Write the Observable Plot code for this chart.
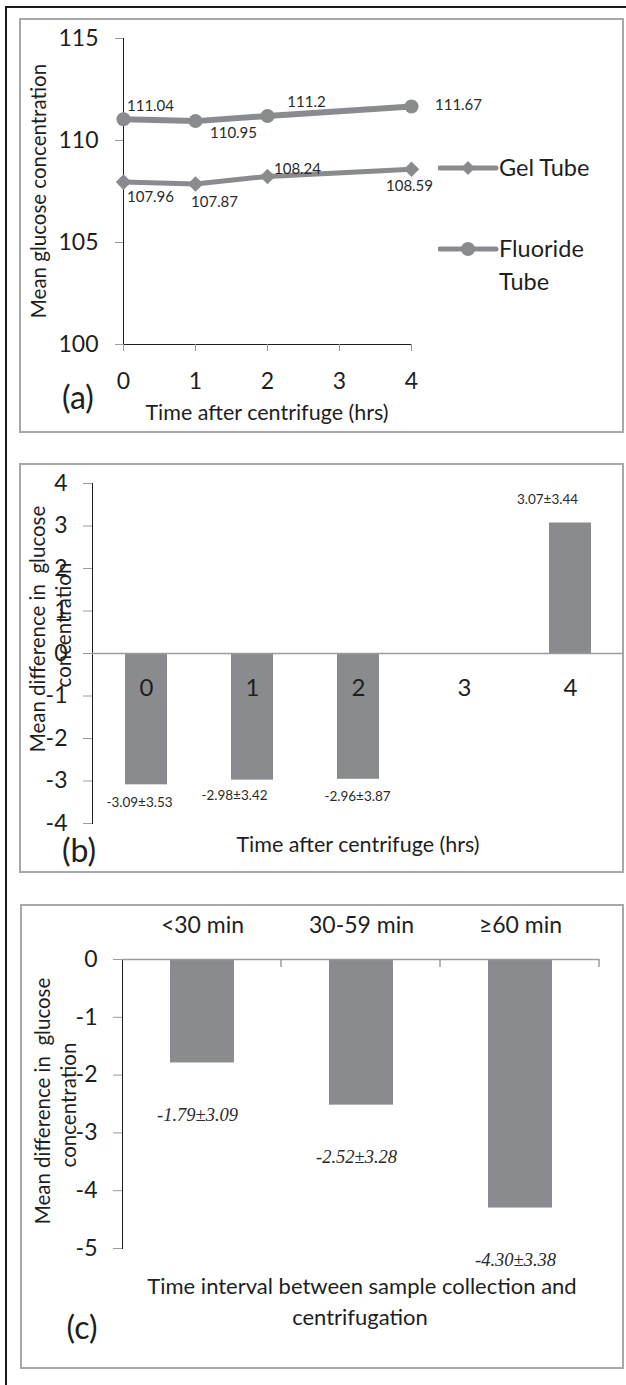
<!DOCTYPE html>
<html><head><meta charset="utf-8">
<script src="https://cdn.jsdelivr.net/npm/d3@7"></script>
<script src="https://cdn.jsdelivr.net/npm/@observablehq/plot@0.6"></script>
<style>
html,body{margin:0;padding:0;background:#fff;}
#page{position:relative;width:626px;height:1385px;overflow:hidden;font-family:Lato,sans-serif;color:#1e1e1e;}
.outer{position:absolute;left:5px;top:6px;width:700px;height:1500px;border-left:2px solid #1a1a1a;border-top:2px solid #1a1a1a;}
.box{position:absolute;border:2px solid #a8a8a8;box-sizing:border-box;}
.plot{position:absolute;}
.t{position:absolute;white-space:nowrap;transform:translate(-50%,-50%);line-height:1;}
.rot{transform:translate(-50%,-50%) rotate(-90deg);}
.l{position:absolute;white-space:nowrap;transform:translate(0,-50%);line-height:1;}
svg g[aria-label*="axis"] line, svg g[aria-label*="axis"] path{stroke:#9c9c9c;}
</style></head>
<body><div id="page"></div>
<script>
// ---------- data ----------
const hours = [0, 1, 2, 4];
const gelTube = [107.96, 107.87, 108.24, 108.59];
const fluorideTube = [111.04, 110.95, 111.2, 111.67];
const xTicksA = [0, 1, 2, 3, 4];
const yTicksA = [100, 105, 110, 115];

const hoursB = ["0", "1", "2", "3", "4"];
const meanDiffB = [-3.09, -2.98, -2.96, null, 3.07];
const sdDiffB = [3.53, 3.42, 3.87, null, 3.44];
const yTicksB = [-4, -3, -2, -1, 0, 1, 2, 3, 4];

const intervalsC = ["<30 min", "30-59 min", "≥60 min"];
const meanDiffC = [-1.79, -2.52, -4.30];
const sdDiffC = [3.09, 3.28, 3.38];
const yTicksC = [-5, -4, -3, -2, -1, 0];

// ---------- helpers ----------
const GRAY = "#8a8b8e";
const page = document.getElementById("page");
function add(html){ page.insertAdjacentHTML("beforeend", html); }
function place(svg, left, top){ svg.classList.add("plot"); svg.style.left = left + "px"; svg.style.top = top + "px"; page.appendChild(svg); }
const baseStyle = {fontFamily:"Lato", fontSize:"23px", color:"#1e1e1e", background:"transparent", overflow:"visible"};

add('<div class="outer"></div>');
add('<div class="box" style="left:19px;top:18px;width:605px;height:415px"></div>');
add('<div class="box" style="left:19px;top:463px;width:605px;height:410px"></div>');
add('<div class="box" style="left:20px;top:904px;width:604px;height:465px"></div>');

// ---------- panel (a) ----------
const idxA = d3.range(hours.length);
const offF = [[27,-13],[38,12],[39,-14],[47,-1]];
const offG = [[27,15],[19,18],[30,-7],[-2,17]];
const plotA = Plot.plot({
  width:605, height:415, marginLeft:104, marginRight:213, marginTop:20, marginBottom:89,
  style: baseStyle,
  x:{domain:[0,4], ticks:xTicksA, tickSize:7, tickPadding:21, line:true, label:null, tickFormat:d=>String(d)},
  y:{domain:[100,115], ticks:yTicksA, tickSize:8, tickPadding:17, line:true, label:null, tickFormat:d=>String(d)},
  marks:[
    Plot.line(idxA, {x:i=>hours[i], y:i=>gelTube[i], stroke:GRAY, strokeWidth:5}),
    Plot.line(idxA, {x:i=>hours[i], y:i=>fluorideTube[i], stroke:GRAY, strokeWidth:6}),
    Plot.dot(idxA, {x:i=>hours[i], y:i=>gelTube[i], symbol:"diamond2", r:7, fill:GRAY, stroke:"none"}),
    Plot.dot(idxA, {x:i=>hours[i], y:i=>fluorideTube[i], symbol:"circle", r:7, fill:GRAY, stroke:"none"}),
    ...idxA.map(i => Plot.text([i], {x:j=>hours[j], y:j=>fluorideTube[j], text:j=>String(fluorideTube[j]), dx:offF[i][0], dy:offF[i][1], fontSize:15, fill:"#2a2a2a"})),
    ...idxA.map(i => Plot.text([i], {x:j=>hours[j], y:j=>gelTube[j], text:j=>String(gelTube[j]), dx:offG[i][0], dy:offG[i][1], fontSize:15, fill:"#2a2a2a"}))
  ]
});
place(plotA, 19, 18);
add('<div class="t rot" style="left:38px;top:191px;font-size:20.5px">Mean glucose concentration</div>');
add('<div class="t" style="left:267px;top:413px;font-size:21.5px">Time after centrifuge (hrs)</div>');
add('<div class="t" style="left:78px;top:397px;font-size:32px">(a)</div>');
// legend
add(`<svg style="position:absolute;left:438px;top:155px" width="62" height="110">
  <line x1="2" x2="58" y1="13" y2="13" stroke="${GRAY}" stroke-width="5" stroke-linecap="round"/>
  <path d="M30,6 L37,13 L30,20 L23,13 Z" fill="${GRAY}"/>
  <line x1="2" x2="58" y1="94" y2="94" stroke="${GRAY}" stroke-width="5" stroke-linecap="round"/>
  <circle cx="30" cy="94" r="7" fill="${GRAY}"/>
</svg>`);
add('<div class="l" style="left:499px;top:168px;font-size:23.5px">Gel Tube</div>');
add('<div class="l" style="left:499px;top:249px;font-size:23.5px">Fluoride</div>');
add('<div class="l" style="left:499px;top:282px;font-size:23.5px">Tube</div>');

// ---------- panel (b) ----------
const idxB = d3.range(hoursB.length).filter(i => meanDiffB[i] != null);
const offB = {0:[-7,18], 1:[-18,16], 2:[-1,17], 4:[-23,-23]};
const plotB = Plot.plot({
  width:605, height:410, marginLeft:73, marginRight:0, marginTop:20, marginBottom:50,
  style: baseStyle,
  x:{domain:hoursB, paddingInner:0.6, paddingOuter:0.3, axis:null},
  y:{domain:[-4,4], ticks:yTicksB, tickSize:9, tickPadding:16, line:true, label:null, tickFormat:d=>String(d)},
  marks:[
    Plot.barY(idxB, {x:i=>hoursB[i], y:i=>meanDiffB[i], fill:GRAY}),
    Plot.ruleY([0], {stroke:"#9c9c9c", strokeWidth:1.5}),
    Plot.text(hoursB, {x:d=>d, y:0, dy:35, text:d=>d, fontSize:24, fill:"#1e1e1e"}),
    ...idxB.map(i => Plot.text([i], {x:j=>hoursB[j], y:j=>meanDiffB[j], text:j=>meanDiffB[j].toFixed(2)+"±"+sdDiffB[j].toFixed(2), dx:offB[i][0], dy:offB[i][1], fontSize:13.5, fill:"#2a2a2a"}))
  ]
});
place(plotB, 19, 463);
add('<div class="t rot" style="left:37px;top:629px;font-size:20.5px">Mean difference in&nbsp; glucose</div>');
add('<div class="t rot" style="left:63px;top:625px;font-size:20.5px">concentration</div>');
add('<div class="t" style="left:358px;top:845px;font-size:21.5px">Time after centrifuge (hrs)</div>');
add('<div class="t" style="left:79px;top:850px;font-size:32px">(b)</div>');

// ---------- panel (c) ----------
const idxC = d3.range(intervalsC.length);
const plotC = Plot.plot({
  width:604, height:465, marginLeft:102, marginRight:25, marginTop:55, marginBottom:121,
  style: baseStyle,
  x:{domain:intervalsC, paddingInner:0.6, paddingOuter:0.3, axis:"top", tickSize:0, tickPadding:27, label:null},
  y:{domain:[-5,0], ticks:yTicksC, tickSize:9, tickPadding:16, line:true, label:null, tickFormat:d=>String(d)},
  marks:[
    Plot.barY(idxC, {x:i=>intervalsC[i], y:i=>meanDiffC[i], fill:GRAY}),
    Plot.ruleY([0], {stroke:"#9c9c9c", strokeWidth:1.5}),
    (index, scales, values, dims) => {
      const n = intervalsC.length;
      const x0 = dims.marginLeft, x1 = dims.width - dims.marginRight, y0 = dims.marginTop;
      const g = d3.create("svg:g");
      for (let k = 1; k <= n; k++) {
        const x = x0 + (x1 - x0) * k / n;
        g.append("line").attr("x1", x).attr("x2", x).attr("y1", y0).attr("y2", y0 + 8).attr("stroke", "#9c9c9c").attr("stroke-width", 1.5);
      }
      return g.node();
    },
    Plot.text(idxC, {x:i=>intervalsC[i], y:i=>meanDiffC[i], text:i=>meanDiffC[i].toFixed(2)+"±"+sdDiffC[i].toFixed(2), dx:-5, dy:52, fontSize:18.5, fontStyle:"italic", fontFamily:"Liberation Serif", fill:"#2a2a2a"})
  ]
});
place(plotC, 20, 904);
add('<div class="t rot" style="left:42px;top:1101px;font-size:20.5px">Mean difference in&nbsp; glucose</div>');
add('<div class="t rot" style="left:68px;top:1105px;font-size:20.5px">concentration</div>');
add('<div class="t" style="left:362px;top:1286px;font-size:22px">Time interval between sample collection and</div>');
add('<div class="t" style="left:360px;top:1317px;font-size:22px">centrifugation</div>');
add('<div class="t" style="left:82px;top:1327px;font-size:32px">(c)</div>');
</script>
</body></html>
